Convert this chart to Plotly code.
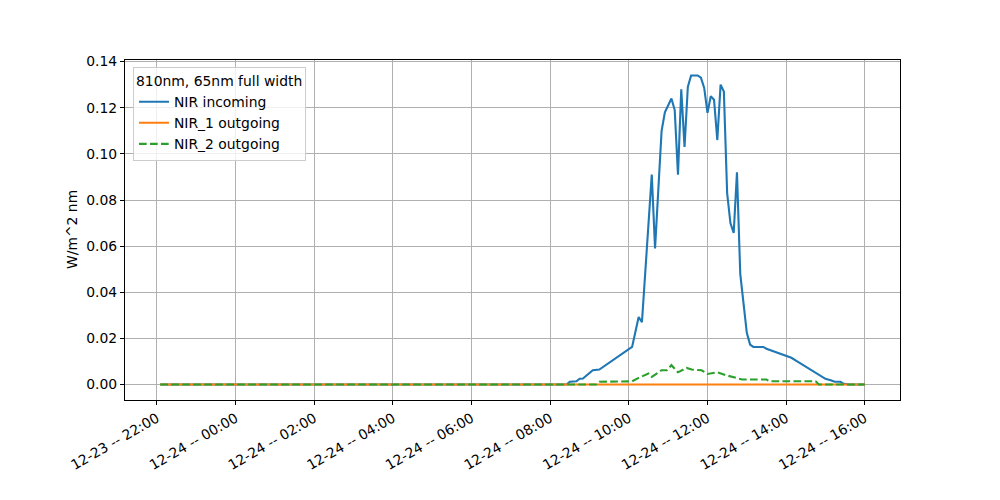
import plotly.graph_objects as go
from datetime import datetime

# ---- data ----
nir_in_times = ["2023-12-23 22:05", "2023-12-24 08:25", "2023-12-24 08:30", "2023-12-24 08:40",
                "2023-12-24 08:45", "2023-12-24 08:50", "2023-12-24 09:05", "2023-12-24 09:15",
                "2023-12-24 10:05", "2023-12-24 10:15", "2023-12-24 10:20", "2023-12-24 10:35",
                "2023-12-24 10:40", "2023-12-24 10:50", "2023-12-24 10:55", "2023-12-24 11:05",
                "2023-12-24 11:10", "2023-12-24 11:15", "2023-12-24 11:20", "2023-12-24 11:25",
                "2023-12-24 11:30", "2023-12-24 11:35", "2023-12-24 11:45", "2023-12-24 11:50",
                "2023-12-24 11:55", "2023-12-24 12:00", "2023-12-24 12:05", "2023-12-24 12:10",
                "2023-12-24 12:15", "2023-12-24 12:20", "2023-12-24 12:25", "2023-12-24 12:30",
                "2023-12-24 12:35", "2023-12-24 12:40", "2023-12-24 12:45", "2023-12-24 12:50",
                "2023-12-24 13:00", "2023-12-24 13:05", "2023-12-24 13:10", "2023-12-24 13:25",
                "2023-12-24 13:30", "2023-12-24 13:37", "2023-12-24 13:45", "2023-12-24 13:52",
                "2023-12-24 14:00", "2023-12-24 14:08", "2023-12-24 14:15", "2023-12-24 14:23",
                "2023-12-24 14:30", "2023-12-24 14:38", "2023-12-24 14:45", "2023-12-24 14:53",
                "2023-12-24 15:00", "2023-12-24 15:08", "2023-12-24 15:14", "2023-12-24 15:23",
                "2023-12-24 15:27", "2023-12-24 15:35", "2023-12-24 16:00"]
nir_in_values = [0.0, 0.0, 0.0012, 0.0014,
                 0.0025, 0.0026, 0.0062, 0.0065,
                 0.0163, 0.0293, 0.027, 0.091,
                 0.059, 0.110, 0.118, 0.124,
                 0.119, 0.091, 0.128, 0.103,
                 0.129, 0.134, 0.134, 0.133,
                 0.1286, 0.1178, 0.125, 0.1235,
                 0.106, 0.130, 0.127, 0.083,
                 0.070, 0.0657, 0.092, 0.048,
                 0.0224, 0.0173, 0.0163, 0.0163,
                 0.0155, 0.0148, 0.0137, 0.0133,
                 0.0123, 0.0116, 0.0104, 0.009,
                 0.008, 0.0065, 0.005, 0.0036,
                 0.0025, 0.0019, 0.0012, 0.0012,
                 0.0004, 0.0, 0.0]

nir1_out_times = ["2023-12-23 22:05", "2023-12-24 16:00"]
nir1_out_values = [0.0, 0.0]

nir2_out_times = ["2023-12-23 22:05", "2023-12-24 09:10", "2023-12-24 09:15", "2023-12-24 10:05",
                  "2023-12-24 10:15", "2023-12-24 10:30", "2023-12-24 10:35", "2023-12-24 10:50",
                  "2023-12-24 10:58", "2023-12-24 11:05", "2023-12-24 11:15", "2023-12-24 11:28",
                  "2023-12-24 11:36", "2023-12-24 11:51", "2023-12-24 12:00", "2023-12-24 12:15",
                  "2023-12-24 12:30", "2023-12-24 12:43", "2023-12-24 12:53", "2023-12-24 13:30",
                  "2023-12-24 13:35", "2023-12-24 14:45", "2023-12-24 14:50", "2023-12-24 16:00"]
nir2_out_values = [0.0, 0.0, 0.0012, 0.0014,
                   0.0029, 0.0048, 0.0033, 0.0062,
                   0.0062, 0.0084, 0.0053, 0.0072,
                   0.0065, 0.0062, 0.0046, 0.0053,
                   0.0039, 0.0029, 0.0022, 0.0022,
                   0.0014, 0.0014, 0.0, 0.0]

series_names = ["NIR incoming", "NIR_1 outgoing", "NIR_2 outgoing"]
legend_title = "810nm, 65nm full width"
y_label = "W/m^2 nm"

FONT = "DejaVu Sans"
FS = 13.9

def to_dt(lst):
    return [datetime.strptime(s, "%Y-%m-%d %H:%M") for s in lst]

fig = go.Figure()
fig.add_trace(go.Scatter(x=to_dt(nir_in_times), y=nir_in_values, mode="lines",
                         name=series_names[0], line=dict(color="#1f77b4", width=2.1)))
fig.add_trace(go.Scatter(x=to_dt(nir1_out_times), y=nir1_out_values, mode="lines",
                         name=series_names[1], line=dict(color="#ff7f0e", width=2.1)))
fig.add_trace(go.Scatter(x=to_dt(nir2_out_times), y=nir2_out_values, mode="lines",
                         name=series_names[2],
                         line=dict(color="#2ca02c", width=2.1, dash="7.7px,3.3px")))

# page body has an 8px margin, so the margins are shifted to land the axes at 125..900 / 60..400
fig.update_layout(
    width=1000, height=500, autosize=False,
    margin=dict(l=117, r=108, t=52, b=108),
    paper_bgcolor="white", plot_bgcolor="white",
    font=dict(family=FONT, size=FS, color="black"),
    showlegend=True,
    legend=dict(
        x=0.0103, y=0.979, xanchor="left", yanchor="top",
        bgcolor="rgba(255,255,255,0.8)", bordercolor="#cccccc", borderwidth=1,
        title=dict(text=legend_title, font=dict(family=FONT, size=FS)),
        font=dict(family=FONT, size=FS),
        itemwidth=30,
        tracegroupgap=0,
    ),
)

fig.update_xaxes(
    type="date",
    range=[datetime(2023, 12, 23, 21, 11, 15), datetime(2023, 12, 24, 16, 53, 45)],
    tick0=datetime(2023, 12, 23, 22, 0), dtick=2 * 3600 * 1000,
    tickformat="%m-%d -- %H:%M", tickangle=-30,
    showgrid=True, gridcolor="#b0b0b0", gridwidth=0.8,
    showline=True, linecolor="black", linewidth=1, mirror=True,
    ticks="outside", ticklen=4, tickcolor="black", tickwidth=1,
    zeroline=False,
    tickfont=dict(family=FONT, size=FS),
)
fig.update_yaxes(
    range=[-0.0067, 0.1407],
    tick0=0, dtick=0.02, tickformat=".2f",
    showgrid=True, gridcolor="#b0b0b0", gridwidth=0.8,
    showline=True, linecolor="black", linewidth=1, mirror=True,
    ticks="outside", ticklen=4, tickcolor="black", tickwidth=1,
    zeroline=False,
    tickfont=dict(family=FONT, size=FS),
)

fig.add_annotation(text=y_label, xref="paper", yref="paper",
                   x=(72 - 125) / 775, y=0.5, textangle=-90, showarrow=False,
                   xanchor="center", yanchor="middle",
                   font=dict(family=FONT, size=FS, color="black"))

fig.write_html("out.html")
